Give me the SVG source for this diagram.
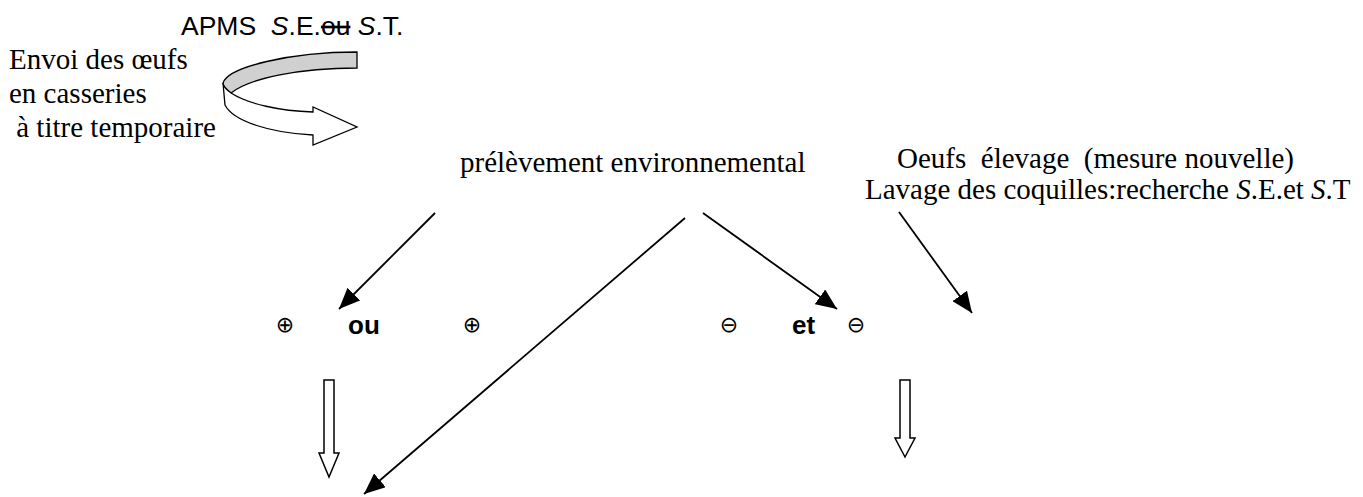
<svg xmlns="http://www.w3.org/2000/svg" width="1363" height="497" viewBox="0 0 1363 497">
  <style>
    .serif { font-family: "Liberation Serif", "Times New Roman", serif; font-size: 29px; fill: #000; white-space: pre; }
    .sans { font-family: "Liberation Sans", Arial, sans-serif; font-size: 26.5px; fill: #000; white-space: pre; }
    .bold { font-family: "Liberation Sans", Arial, sans-serif; font-size: 26px; font-weight: bold; fill: #000; }
    .sym { font-family: "DejaVu Sans", sans-serif; font-size: 22px; fill: #000; text-anchor: middle; }
    .it { font-style: italic; }
    .link { stroke: #000; stroke-width: 1.8; fill: none; marker-end: url(#head); }
    .hollow { stroke: #000; stroke-width: 1.5; fill: #fff; stroke-linejoin: miter; }
  </style>
  <defs>
    <marker id="head" markerUnits="userSpaceOnUse" viewBox="0 0 21 18" refX="21" refY="9" markerWidth="21" markerHeight="18" orient="auto">
      <path d="M0,0 L21,9 L0,18 Z" fill="#000"/>
    </marker>
  </defs>
  <rect width="1363" height="497" fill="#fff"/>

  <!-- header label -->
  <g id="apms">
    <text class="sans" x="181" y="35">APMS  <tspan class="it">S</tspan>.E.<tspan text-decoration="line-through">ou</tspan> <tspan class="it">S</tspan>.T.</text>
  </g>

  <!-- temporary dispatch note -->
  <g id="envoi">
    <text class="serif" x="9" y="69">Envoi des œufs</text>
    <text class="serif" x="9" y="103">en casseries</text>
    <text class="serif" x="9" y="137"> à titre temporaire</text>
  </g>

  <g id="prelevement">
    <text class="serif" x="460" y="172">prélèvement environnemental</text>
  </g>

  <g id="oeufs-elevage">
    <text class="serif" x="897" y="168">Oeufs  élevage  (mesure nouvelle)</text>
    <text class="serif" x="865" y="199">Lavage des coquilles:recherche <tspan class="it">S</tspan>.E.et <tspan class="it">S</tspan>.T</text>
  </g>

  <g id="positif">
    <text class="sym" x="285" y="332">⊕</text>
    <text class="bold" x="348" y="334">ou</text>
    <text class="sym" x="472" y="332">⊕</text>
  </g>

  <g id="negatif">
    <text class="sym" x="729" y="332">⊖</text>
    <text class="bold" x="792" y="334">et</text>
    <text class="sym" x="856" y="332">⊖</text>
  </g>

  <g id="connectors">
    <!-- curved ribbon arrow -->
    <path d="M357,52 L357,68 C300,68 250,78 231,93 C227,90 223,87 223,83 C228,67 290,52 357,52 Z" fill="#d0d0d0" stroke="#000" stroke-width="1.3"/>
    <path d="M223,83 C223,87 227,90 231,93 C248,104 280,111 313,112 L313,107 L357,127 L313,145 L313,135 C270,133 233,121 225,105 Z" fill="#fff" stroke="#000" stroke-width="1.3" stroke-linejoin="miter"/>

    <line class="link" x1="435" y1="213" x2="339" y2="309"/>
    <line class="link" x1="685" y1="218" x2="364" y2="494"/>
    <line class="link" x1="703" y1="213" x2="837" y2="309"/>
    <line class="link" x1="899" y1="212" x2="972" y2="313"/>

    <path class="hollow" d="M324,380 L334,380 L334,453 L339,453 L329,477 L319,453 L324,453 Z"/>
    <path class="hollow" d="M900,380 L910,380 L910,438 L915,438 L905,457 L895,438 L900,438 Z"/>
  </g>
</svg>
